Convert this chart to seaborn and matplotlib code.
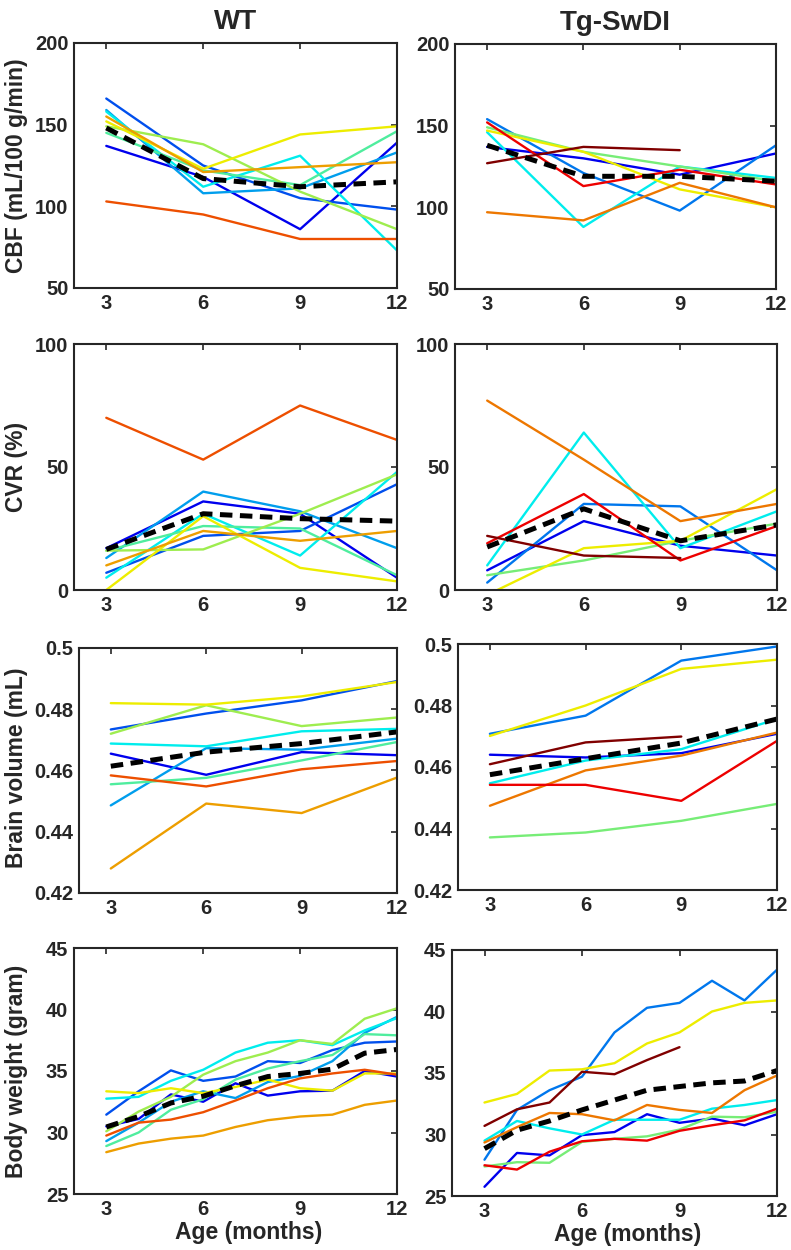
import numpy as np
import pandas as pd
import matplotlib
matplotlib.use("Agg")
import matplotlib.pyplot as plt
import seaborn as sns

# ---------------- data ----------------
months_q = [3, 6, 9, 12]
months_bw = [3, 4, 5, 6, 7, 8, 9, 10, 11, 12]
nan = np.nan

# WT CBF
wt_cbf = {
    "dark blue":   [137, 118, 86, 139],
    "medium blue": [166, 125, 105, 98],
    "azure":       [159, 108, 111, 133],
    "cyan":        [158, 112, 131, 73],
    "mint":        [145, 122, 113, 146],
    "light green": [149, 138, 109, 86],
    "yellow":      [152, 123, 144, 149],
    "orange":      [155, 121, 124, 127],
    "red-orange":  [103, 95, 80, 80],
}
wt_cbf_mean = [148, 117, 112, 115]

# WT CVR
wt_cvr = {
    "dark blue":   [17, 36, 31, 5],
    "medium blue": [7, 22, 24, 43],
    "azure":       [13, 40, 32, 17],
    "cyan":        [5, 31, 14, 48],
    "mint":        [16, 26, 25, 6],
    "light green": [16, 16.5, 31, 47],
    "yellow":      [0, 30, 9, 3.5],
    "orange":      [10, 24, 20, 24],
    "red-orange":  [70, 53, 75, 61],
}
wt_cvr_mean = [16.5, 31, 29, 28]

# WT brain volume
wt_bv = {
    "dark blue":   [0.4655, 0.4586, 0.4660, 0.4650],
    "medium blue": [0.4734, 0.4786, 0.4829, 0.4892],
    "azure":       [0.4486, 0.4673, 0.4668, 0.4704],
    "cyan":        [0.4688, 0.4679, 0.4728, 0.4736],
    "mint":        [0.4555, 0.4576, 0.4633, 0.4693],
    "light green": [0.4720, 0.4813, 0.4745, 0.4773],
    "yellow":      [0.4820, 0.4815, 0.4842, 0.4889],
    "orange":      [0.4280, 0.4492, 0.4461, 0.4577],
    "red-orange":  [0.4584, 0.4548, 0.4604, 0.4631],
}
wt_bv_mean = [0.4614, 0.4660, 0.4688, 0.4726]

# WT body weight
wt_bw = {
    "dark blue":   [30.5, 31.1, 33.1, 32.5, 34.0, 33.0, 33.35, 33.4, 35.0, 34.55],
    "medium blue": [31.45, 33.35, 35.05, 34.2, 34.55, 35.8, 35.65, 36.7, 37.3, 37.4],
    "azure":       [29.3, 30.8, 32.5, 33.35, 32.8, 34.1, 34.6, 35.8, 38.1, 39.4],
    "cyan":        [32.75, 32.9, 34.2, 35.1, 36.5, 37.3, 37.5, 37.1, 38.3, 39.3],
    "mint":        [28.9, 30.0, 31.85, 32.7, 34.3, 35.2, 35.8, 36.3, 38.0, 37.9],
    "light green": [30.1, 31.7, 32.9, 34.7, 35.8, 36.5, 37.5, 37.2, 39.25, 40.1],
    "yellow":      [33.35, 33.2, 33.6, 33.2, 33.7, 34.3, 33.6, 33.4, 34.8, 34.8],
    "orange":      [28.4, 29.1, 29.5, 29.75, 30.45, 31.0, 31.3, 31.45, 32.25, 32.6],
    "red-orange":  [29.75, 30.8, 31.05, 31.65, 32.6, 33.6, 34.4, 34.8, 35.1, 34.7],
}
wt_bw_mean = [30.45, 31.3, 32.4, 32.95, 33.8, 34.55, 34.8, 35.15, 36.45, 36.75]

# Tg-SwDI CBF
tg_cbf = {
    "dark blue": [137, 130, 120, 133],
    "azure":     [154, 121, 98, 138],
    "cyan":      [146, 88, 125, 118],
    "green":     [149, 134, 125, 116],
    "yellow":    [147, 134, 111, 100],
    "orange":    [97, 92, 115, 100],
    "red":       [152, 113, 123, 114],
    "dark red":  [127, 137, 135, nan],
}
tg_cbf_mean = [138, 119, 119, 116]

# Tg-SwDI CVR
tg_cvr = {
    "dark blue": [8, 28, 18, 14],
    "azure":     [3, 35, 34, 8],
    "cyan":      [10, 64, 17, 32],
    "green":     [6, 12, 20, 27],
    "yellow":    [-2, 17, 20, 41],
    "orange":    [77, 53, 28, 35],
    "red":       [19, 39, 12, 26],
    "dark red":  [22, 14, 13, nan],
}
tg_cvr_mean = [17.5, 33, 20, 26.5]

# Tg-SwDI brain volume
tg_bv = {
    "dark blue": [0.4640, 0.4631, 0.4645, 0.4708],
    "azure":     [0.4708, 0.4767, 0.4946, 0.4992],
    "cyan":      [0.4547, 0.4621, 0.4658, 0.4756],
    "green":     [0.4371, 0.4387, 0.4425, 0.4480],
    "yellow":    [0.4701, 0.4800, 0.4919, 0.4949],
    "orange":    [0.4474, 0.4589, 0.4637, 0.4712],
    "red":       [0.4542, 0.4542, 0.4490, 0.4685],
    "dark red":  [0.4609, 0.4680, 0.4699, nan],
}
tg_bv_mean = [0.4575, 0.4627, 0.4678, 0.4756]

# Tg-SwDI body weight
tg_bw = {
    "dark blue": [25.75, 28.5, 28.3, 29.95, 30.2, 31.65, 30.95, 31.3, 30.75, 31.65],
    "azure":     [27.95, 32.0, 33.6, 34.7, 38.3, 40.3, 40.7, 42.5, 40.9, 43.4],
    "cyan":      [29.5, 31.1, 30.5, 30.0, 31.2, 31.2, 31.2, 32.1, 32.4, 32.8],
    "green":     [27.4, 27.75, 27.7, 29.4, 29.65, 29.85, 30.4, 31.45, 31.4, 31.85],
    "yellow":    [32.6, 33.3, 35.2, 35.3, 35.8, 37.4, 38.3, 40.0, 40.7, 40.9],
    "orange":    [29.35, 30.6, 31.75, 31.65, 31.15, 32.4, 32.0, 31.75, 33.6, 34.8],
    "red":       [27.5, 27.15, 28.6, 29.45, 29.65, 29.5, 30.3, 30.75, 31.15, 32.1],
    "dark red":  [30.7, 32.05, 32.6, 35.1, 34.9, 36.05, 37.1, nan, nan, nan],
}
tg_bw_mean = [28.85, 30.35, 31.1, 32.0, 32.8, 33.6, 33.9, 34.2, 34.35, 35.2]

titles = ["WT", "Tg-SwDI"]
ylabels = ["CBF (mL/100 g/min)", "CVR (%)", "Brain volume (mL)", "Body weight (gram)"]
xlabel = "Age (months)"
xticks = [3, 6, 9, 12]
ytick_vals = [[50, 100, 150, 200], [0, 50, 100],
              [0.42, 0.44, 0.46, 0.48, 0.5], [25, 30, 35, 40, 45]]
ytick_text = [["50", "100", "150", "200"], ["0", "50", "100"],
              ["0.42", "0.44", "0.46", "0.48", "0.5"], ["25", "30", "35", "40", "45"]]

# ---------------- style ----------------
def dk(c, f=0.93):
    return tuple(min(1, v * f) for v in c)

wt_colors = {
    "dark blue": dk((0, 0, 1)), "medium blue": dk((0, 1/3, 1)),
    "azure": dk((0, 2/3, 1)), "cyan": dk((0, 1, 1)),
    "mint": dk((1/3, 1, 2/3)), "light green": dk((2/3, 1, 1/3)),
    "yellow": dk((1, 1, 0)), "orange": dk((1, 2/3, 0)),
    "red-orange": dk((1, 1/3, 0)),
}
tg_colors = {
    "dark blue": dk((0, 0, 1)), "azure": dk((0, 0.5, 1)),
    "cyan": dk((0, 1, 1)), "green": dk((0.5, 1, 0.5)),
    "yellow": dk((1, 1, 0)), "orange": dk((1, 0.5, 0)),
    "red": dk((1, 0, 0)), "dark red": dk((0.5, 0, 0), 1.0),
}

sns.set_style("white")
plt.rcParams["font.family"] = ["Liberation Sans", "DejaVu Sans"]
plt.rcParams["font.weight"] = "bold"
plt.rcParams["axes.labelweight"] = "bold"
plt.rcParams["axes.titleweight"] = "bold"
TXT = "#262626"

W, H = 791, 1250
fig = plt.figure(figsize=(W / 100, H / 100), dpi=100)

# pixel boxes (left, top, right, bottom)
boxes = [
    [(74, 43, 397, 288), (455, 44, 776, 289)],
    [(74, 344, 397, 590), (455, 344, 777, 590)],
    [(79, 648, 397, 893), (458, 644, 777, 890)],
    [(74, 948, 397, 1194), (452, 950, 777, 1196)],
]

panels = [
    [(wt_cbf, wt_cbf_mean, months_q), (tg_cbf, tg_cbf_mean, months_q)],
    [(wt_cvr, wt_cvr_mean, months_q), (tg_cvr, tg_cvr_mean, months_q)],
    [(wt_bv, wt_bv_mean, months_q), (tg_bv, tg_bv_mean, months_q)],
    [(wt_bw, wt_bw_mean, months_bw), (tg_bw, tg_bw_mean, months_bw)],
]
ylims = [(50, 200), (0, 100), (0.42, 0.5), (25, 45)]
label_centers = [165.5, 467, 768, 1071]

for r in range(4):
    for c in range(2):
        l, t, rr, b = boxes[r][c]
        ax = fig.add_axes([l / W, 1 - b / H, (rr - l) / W, (b - t) / H])
        series, mean, months = panels[r][c]
        colors = wt_colors if c == 0 else tg_colors
        rows = []
        for name, vals in series.items():
            for m, v in zip(months, vals):
                rows.append((name, m, v))
        df = pd.DataFrame(rows, columns=["subject", "age", "value"]).dropna()
        sns.lineplot(data=df, x="age", y="value", hue="subject",
                     hue_order=list(series.keys()), palette=colors,
                     estimator=None, sort=False, lw=1.7, ax=ax, legend=False)
        mdf = pd.DataFrame({"age": months, "value": mean})
        sns.lineplot(data=mdf, x="age", y="value", color="black", lw=3.6,
                     estimator=None, sort=False, ax=ax, legend=False)
        ax.lines[-1].set_dashes((2.5, 1.5))

        ax.set_xlim(2, 12)
        ax.set_ylim(*ylims[r])
        ax.set_xticks(xticks)
        ax.set_xticklabels([str(x) for x in xticks])
        ax.set_yticks(ytick_vals[r])
        ax.set_yticklabels(ytick_text[r])
        ax.tick_params(direction="in", top=True, right=True, length=4,
                       width=1.2, colors=TXT, labelsize=14.5, pad=4)
        for lbl in ax.get_xticklabels() + ax.get_yticklabels():
            lbl.set_fontweight("bold")
        for s in ax.spines.values():
            s.set_color(TXT)
            s.set_linewidth(1.5)
        ax.set_xlabel("")
        ax.set_ylabel("")
        if r == 0:
            ax.set_title(titles[c], fontsize=20, fontweight="bold", color=TXT, pad=10)
        if r == 3:
            ax.set_xlabel(xlabel, fontsize=16.5, fontweight="bold", color=TXT)
            ax.xaxis.set_label_coords(0.54, -0.108)
        if c == 0:
            fig.text(17 / W, 1 - label_centers[r] / H, ylabels[r], rotation=90,
                     ha="center", va="center", fontsize=16.5,
                     fontweight="bold", color=TXT)

fig.savefig("out.png", dpi=100)
